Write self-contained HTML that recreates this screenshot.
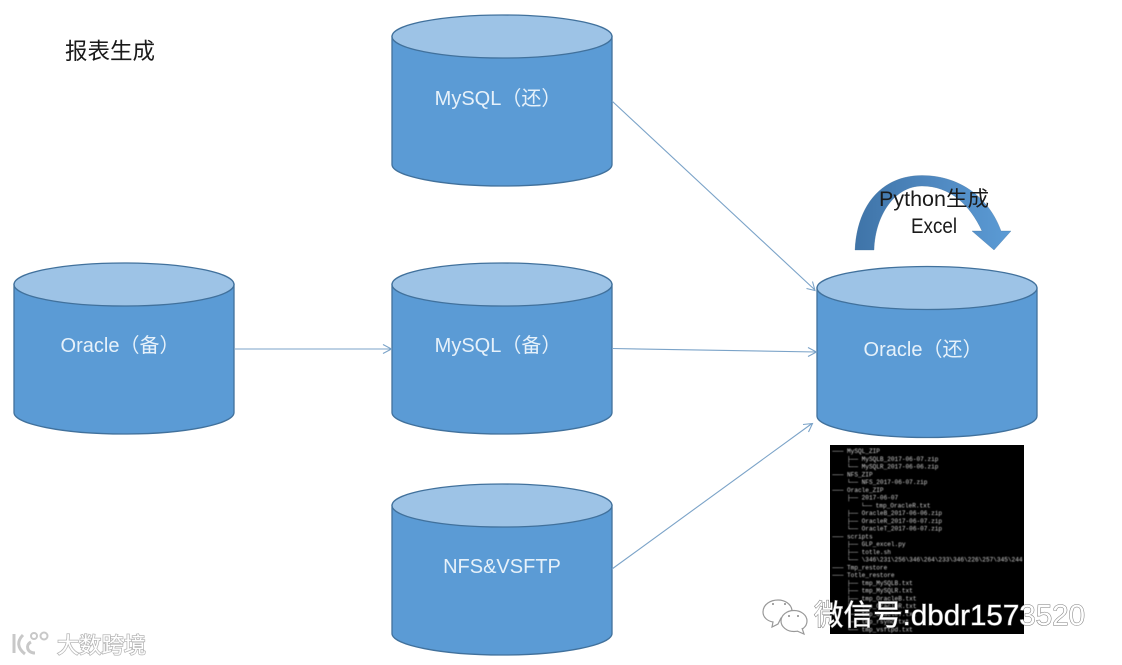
<!DOCTYPE html>
<html><head><meta charset="utf-8"><style>
html,body{margin:0;padding:0;background:#fff;width:1122px;height:665px;overflow:hidden}
svg{display:block}
text{font-family:"Liberation Sans","Noto Sans CJK SC",sans-serif}
.l{font-size:20px;fill:#e6f1fa;text-anchor:middle}
.k{font-size:21px;fill:#1a1a1a;text-anchor:middle}
.t text{font-family:"Liberation Mono",monospace;font-size:6.1px;fill:#d4d4d4}
.ln{fill:none;stroke:#7ba3c8;stroke-width:1.1}
.wm{font-size:29px;fill:#fff;stroke:#777;stroke-width:1px;paint-order:stroke}
</style></head><body>
<svg width="1122" height="665" viewBox="0 0 1122 665" xmlns="http://www.w3.org/2000/svg">
<defs>
<linearGradient id="ag" x1="0" x2="1" y1="0" y2="0"><stop offset="0" stop-color="#3f74a8"/><stop offset="0.5" stop-color="#4f88c0"/><stop offset="1" stop-color="#5b9bd5"/></linearGradient>
<filter id="b"><feGaussianBlur stdDeviation="0.4"/></filter>
<g id="cyl">
<path d="M0.5 21.5V149.5C0.5 161 49.5 171 110.5 171S220.5 161 220.5 149.5V21.5Z" fill="#5b9bd5" stroke="#41719c" stroke-width="1.3"/>
<ellipse cx="110.5" cy="21.5" rx="110" ry="21.5" fill="#9dc3e6" stroke="#41719c" stroke-width="1.3"/>
</g>
</defs>
<rect width="1122" height="665" fill="#fff"/>

<text x="65" y="59" font-size="22.5" fill="#1a1a1a">报表生成</text>

<use href="#cyl" x="391.5" y="15"/>
<use href="#cyl" x="13.5" y="263"/>
<use href="#cyl" x="391.5" y="263"/>
<use href="#cyl" x="391.5" y="484"/>
<use href="#cyl" x="816.5" y="266.5"/>

<text class="l" x="498" y="105">MySQL（还）</text>
<text class="l" x="120" y="352">Oracle（备）</text>
<text class="l" x="498" y="352">MySQL（备）</text>
<text class="l" x="502" y="573">NFS&amp;VSFTP</text>
<text class="l" x="923" y="356">Oracle（还）</text>

<path class="ln" d="M235 349H391M383 344.5L391.5 349L383 353.5"/>
<path class="ln" d="M612 101L815 290M806.5 288.5L815 290.5L812.5 281.5"/>
<path class="ln" d="M612 348.5L816 352M808 347.5L816.5 352L808 356.5"/>
<path class="ln" d="M612 569L812 423.5M803 424.5L812.5 423.5L808.5 432"/>

<path d="M855 250C857 205 882 175.500 922 175.500C962 175.500 990 200 1001 231H1011L994 250L972 231H982C970 205 950 186 922 186C895 186 875 215 874 250Z" fill="url(#ag)" stroke="#41719c" stroke-width="0.3"/>
<text class="k" x="934" y="206" textLength="110" lengthAdjust="spacingAndGlyphs">Python生成</text>
<text class="k" x="934" y="233" textLength="46" lengthAdjust="spacingAndGlyphs">Excel</text>

<rect x="830" y="445" width="194" height="189" fill="#000"/>
<svg x="830" y="445" width="194" height="189" viewBox="830 445 194 189">
<g class="t" filter="url(#b)">
<text x="832.4" y="453">─── MySQL_ZIP</text>
<text x="847" y="460.75">├── MySQLB_2017-06-07.zip</text>
<text x="847" y="468.5">└── MySQLR_2017-06-06.zip</text>
<text x="832.4" y="476.25">─── NFS_ZIP</text>
<text x="847" y="484">└── NFS_2017-06-07.zip</text>
<text x="832.4" y="491.75">─── Oracle_ZIP</text>
<text x="847" y="499.5">├── 2017-06-07</text>
<text x="861" y="507.25">└── tmp_OracleR.txt</text>
<text x="847" y="515">├── OracleB_2017-06-06.zip</text>
<text x="847" y="522.75">├── OracleR_2017-06-07.zip</text>
<text x="847" y="530.5">└── OracleT_2017-06-07.zip</text>
<text x="832.4" y="538.25">─── scripts</text>
<text x="847" y="546">├── GLP_excel.py</text>
<text x="847" y="553.75">├── totle.sh</text>
<text x="847" y="561.5">└── \346\231\256\346\264\233\346\226\257\345\244</text>
<text x="832.4" y="569.25">─── Tmp_restore</text>
<text x="832.4" y="577">─── Totle_restore</text>
<text x="847" y="584.75">├── tmp_MySQLB.txt</text>
<text x="847" y="592.5">├── tmp_MySQLR.txt</text>
<text x="847" y="600.25">├── tmp_OracleB.txt</text>
<text x="847" y="608">├── tmp_OracleR.txt</text>
<text x="847" y="615.75">├── tmp_OracleT.txt</text>
<text x="847" y="623.5">├── tmp_rsync.txt</text>
<text x="847" y="631.25">└── tmp_vsftpd.txt</text>
</g>
</svg>

<text class="wm" x="814" y="625" textLength="271" lengthAdjust="spacingAndGlyphs">微信号:dbdr1573520</text>

<g fill="#fff" stroke="#999" stroke-width="1.2">
<path d="M763 612C763 604 771 600 778 600C785 600 791 604 792 610L781 618L778 624L772 627L773 622C767 621 763 617 763 612Z"/>
<ellipse cx="794" cy="621" rx="13" ry="10.5"/>
<path d="M797 631L804 634L802 628" />
</g>
<g fill="#888"><circle cx="773" cy="604" r="1"/><circle cx="785" cy="604" r="1"/><circle cx="789" cy="616" r="1"/><circle cx="798" cy="616" r="1"/></g>

<g fill="none" stroke="#c8c8c8" stroke-width="3">
<path d="M14 634V653M23 635C17 641 17 648 25 654"/>
<path d="M31 642C25 645 27 653 35 653"/>
</g>
<g fill="none" stroke="#c8c8c8" stroke-width="2"><circle cx="34" cy="636" r="3"/><circle cx="44" cy="636" r="3.5"/></g>
<text x="57" y="653" font-size="22" fill="#fff" stroke="#b5b5b5" stroke-width="1.5" style="paint-order:stroke" textLength="89" lengthAdjust="spacingAndGlyphs">大数跨境</text>
</svg>
</body></html>
